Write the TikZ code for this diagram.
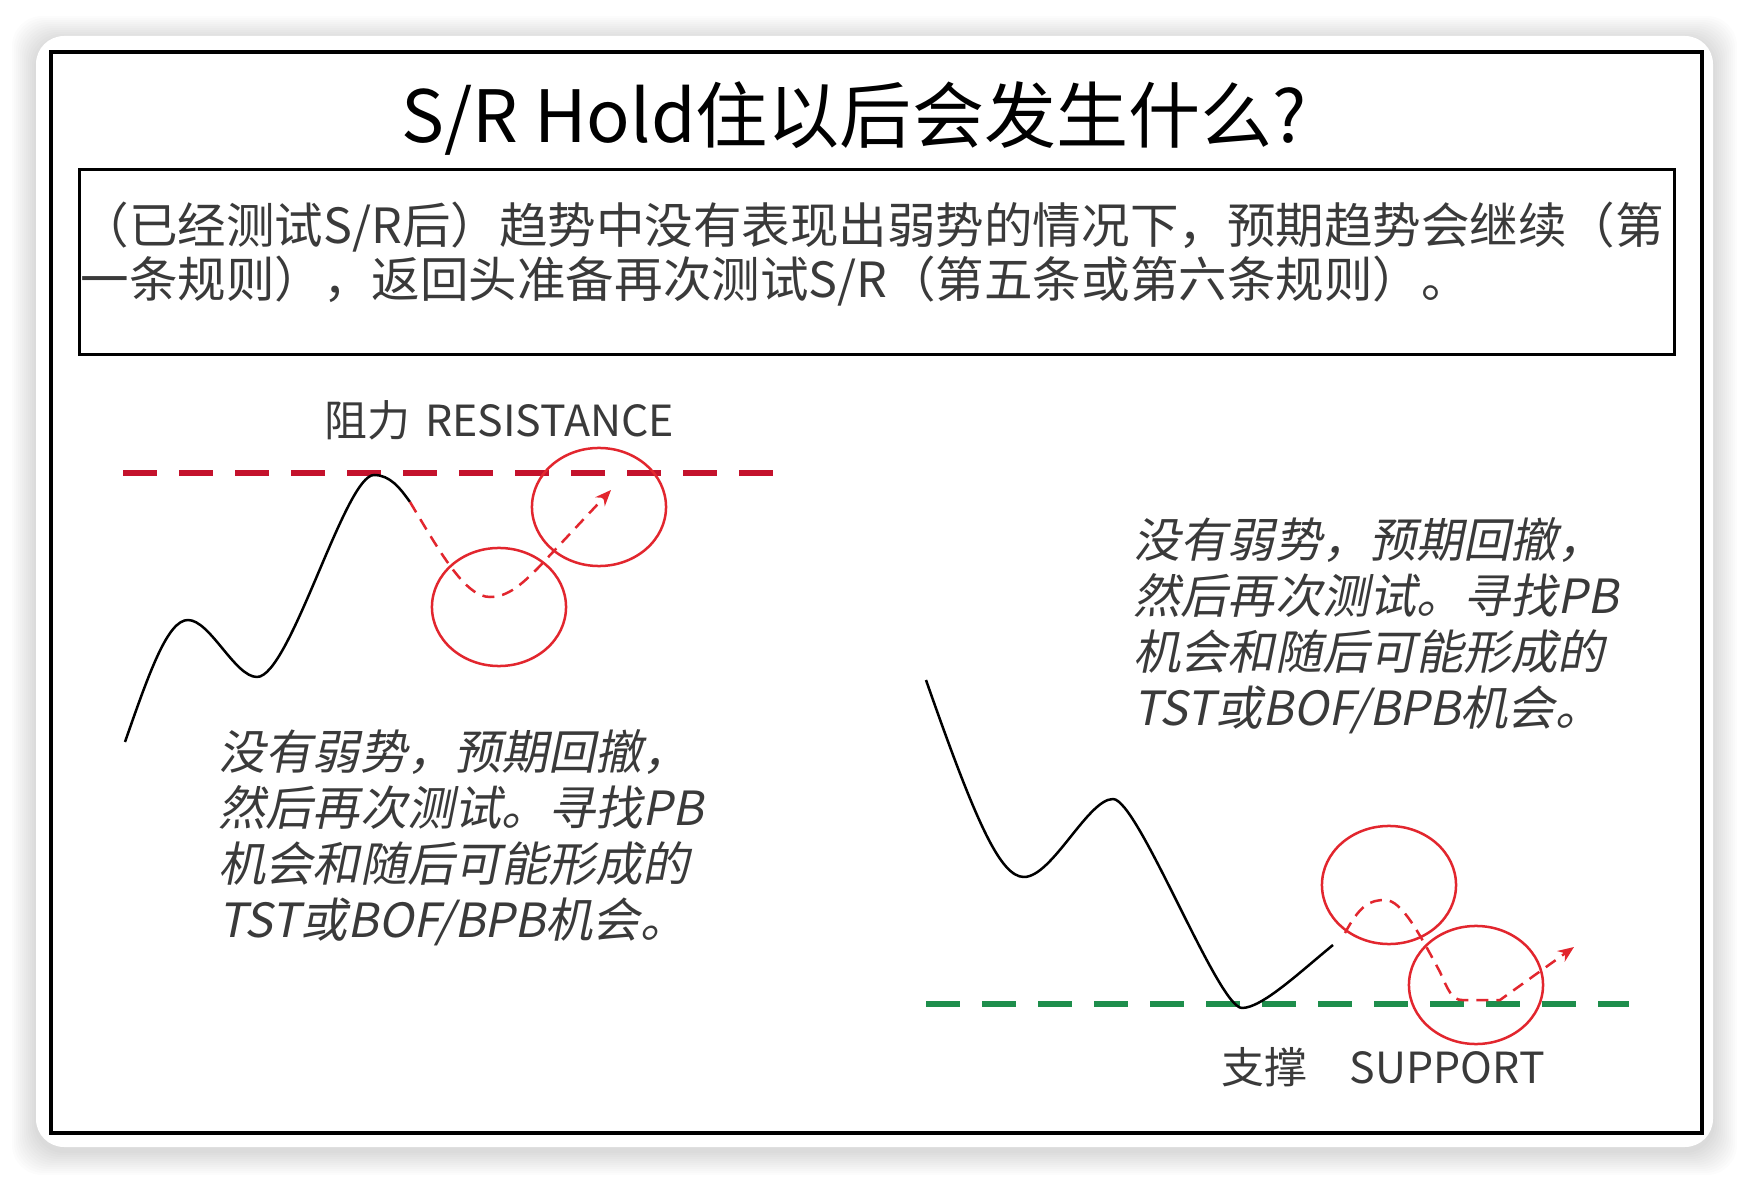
\documentclass[tikz,border=0pt]{standalone}
\usepackage{fontspec}
\setmainfont{Noto Sans CJK SC}
\newfontfamily\srslant[FakeSlant=0.2]{Noto Sans CJK SC}
\usepackage{xcolor}
\definecolor{srred}{HTML}{C4122C}
\definecolor{srring}{HTML}{E2262E}
\definecolor{srgreen}{HTML}{1E8E4C}
\definecolor{srtext}{HTML}{3A3A3A}
\usepackage{tikz}
\usetikzlibrary{arrows.meta,positioning,shapes.geometric,calc}
\tikzset{
  srframe/.style={draw=black,line width=0.035cm},
  srtitle/.style={font=\fontsize{20.5}{24}\selectfont,inner sep=0pt},
  srhead/.style={font=\fontsize{13.8}{15.4}\selectfont,text=srtext,align=left,inner sep=0pt},
  srlevel/.style={line width=0.06cm,dash pattern=on 0.34cm off 0.22cm},
  srprice/.style={draw=black,line width=0.025cm,line join=round},
  srpath/.style={draw=srring,line width=0.025cm,dash pattern=on 0.12cm off 0.08cm},
  srcircle/.style={draw=srring,line width=0.025cm,ellipse,minimum width=1.34cm,minimum height=1.18cm,inner sep=0pt},
  srnote/.style={font=\srslant\fontsize{13.4}{15.9}\selectfont,text=srtext,align=left,anchor=north west,inner sep=0pt},
  srlabel/.style={font=\fontsize{12.2}{14}\selectfont,text=srtext,inner sep=0pt},
}

\begin{document}
\begin{tikzpicture}[x=0.01cm,y=-0.01cm]
\useasboundingbox (0,0) rectangle (1750,1182);
\fill[white] (0,0) rectangle (1750,1182);
% card and shadow
\foreach \s in {2,4,...,24}
  \fill[black,opacity=0.013,rounded corners=0.3cm] (36-\s,40-\s) rectangle (1713+\s,1151+\s);
\fill[white,rounded corners=0.28cm] (36,36) rectangle (1713,1147);
\draw[srframe] (51,52) rectangle (1702,1133);

\node[srtitle] (title) at (854,119) {S/R Hold住以后会发生什么?};
\node[srframe,minimum width=15.94cm,minimum height=1.85cm,inner sep=0pt] (rule) at (877,262) {};
\node[srhead,anchor=west] (ruletext) at (80,254) {（已经测试S/R后）趋势中没有表现出弱势的情况下，预期趋势会继续（第\\一条规则），返回头准备再次测试S/R（第五条或第六条规则）。};

% resistance side
\coordinate (resL) at (123,473);
\coordinate (resR) at (776,473);
\draw[srlevel,srred] (resL) -- (resR);
\node[srlabel] (reslabel) at (499,420) {阻力\hspace{0.35em}RESISTANCE};
\node[srcircle] (pb) at (499,607) {};
\node[srcircle] (retest) at (599,507) {};
\coordinate (upA) at (125,742);
\coordinate (upB) at (410,502);
\draw[srprice] (upA) .. controls (150,670) and (168,620) .. (188,620)
  .. controls (210,620) and (235,677) .. (257,677)
  .. controls (290,677) and (345,475) .. (374,475)
  .. controls (390,475) and (400,488) .. (upB);
\draw[srpath,-{Stealth[length=0.16cm,width=0.13cm]}] (upB) .. controls (440,552) and (465,597) .. (490,597)
  .. controls (508,597) and (522,584) .. (538,568) -- (611,490);
\node[srnote] (lnote) at (218,729) {没有弱势，预期回撤，\\然后再次测试。寻找PB\\机会和随后可能形成的\\TST或BOF/BPB机会。};

% support side
\coordinate (supL) at (926,1004);
\coordinate (supR) at (1629,1004);
\draw[srlevel,srgreen] (supL) -- (supR);
\node[srlabel] (suplabel) at (1383,1067) {支撑\hspace{1em}SUPPORT};
\node[srcircle] (pbtop) at (1389,885) {};
\node[srcircle] (retestlow) at (1476,985) {};
\coordinate (dnA) at (926,680);
\coordinate (dnB) at (1333,945);
\draw[srprice] (dnA) .. controls (975,820) and (1000,877) .. (1024,877)
  .. controls (1052,877) and (1088,799) .. (1113,799)
  .. controls (1138,799) and (1218,1008) .. (1242,1008)
  .. controls (1262,1008) and (1300,972) .. (dnB);
\draw[srpath,-{Stealth[length=0.16cm,width=0.13cm]}] (1345,933) .. controls (1360,905) and (1370,900) .. (1385,900)
  .. controls (1402,900) and (1420,935) .. (1440,972)
  .. controls (1448,990) and (1452,1000) .. (1462,1000) -- (1500,1000) -- (1574,947);
\node[srnote] (rnote) at (1133,517) {没有弱势，预期回撤，\\然后再次测试。寻找PB\\机会和随后可能形成的\\TST或BOF/BPB机会。};
\end{tikzpicture}
\end{document}
